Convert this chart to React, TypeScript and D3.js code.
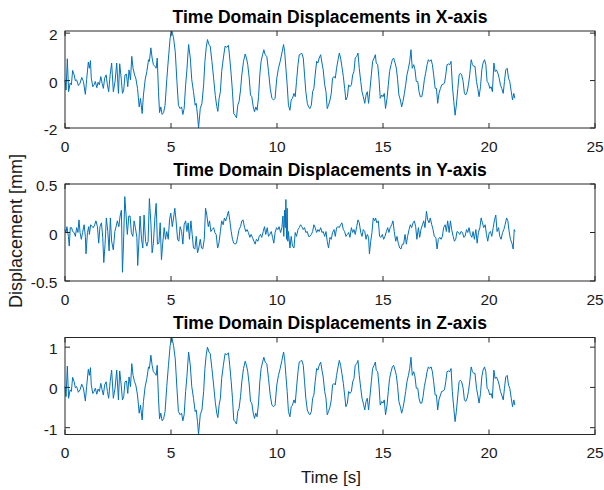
import React from "react";
import * as d3 from "d3";

// 시간축 (X/Z 공통)
const timeXZ = [
  0.00, 0.05, 0.11, 0.17, 0.24, 0.30, 0.36, 0.43, 0.49, 0.55,
  0.63, 0.71, 0.79, 0.87, 0.96, 1.02, 1.10, 1.15, 1.20, 1.24,
  1.31, 1.37, 1.43, 1.50, 1.56, 1.62, 1.69, 1.75, 1.81, 1.87,
  1.94, 2.00, 2.06, 2.13, 2.20, 2.28, 2.36, 2.44, 2.52, 2.58,
  2.65, 2.71, 2.77, 2.83, 2.90, 2.96, 3.02, 3.09, 3.15, 3.21,
  3.28, 3.34, 3.42, 3.50, 3.56, 3.64, 3.70, 3.78, 3.86, 3.94,
  3.98, 4.05, 4.11, 4.17, 4.24, 4.30, 4.35, 4.41, 4.46, 4.52,
  4.58, 4.65, 4.72, 4.80, 4.88, 4.96, 5.04, 5.12, 5.20, 5.28,
  5.35, 5.43, 5.50, 5.56, 5.62, 5.69, 5.75, 5.83, 5.91, 5.98,
  6.06, 6.14, 6.19, 6.25, 6.30, 6.38, 6.46, 6.54, 6.60, 6.66,
  6.72, 6.79, 6.85, 6.93, 7.01, 7.09, 7.16, 7.21, 7.27, 7.33,
  7.39, 7.47, 7.55, 7.63, 7.71, 7.77, 7.84, 7.90, 7.96, 8.02,
  8.09, 8.15, 8.21, 8.28, 8.34, 8.42, 8.50, 8.56, 8.62, 8.69,
  8.75, 8.81, 8.88, 8.94, 9.00, 9.06, 9.13, 9.19, 9.25, 9.32,
  9.38, 9.44, 9.52, 9.60, 9.68, 9.76, 9.84, 9.91, 9.99, 10.07,
  10.15, 10.23, 10.31, 10.36, 10.42, 10.48, 10.54, 10.61, 10.67, 10.73,
  10.80, 10.86, 10.92, 10.99, 11.05, 11.11, 11.17, 11.24, 11.30, 11.36,
  11.43, 11.49, 11.55, 11.62, 11.68, 11.74, 11.80, 11.87, 11.93, 11.99,
  12.06, 12.12, 12.18, 12.25, 12.31, 12.37, 12.43, 12.50, 12.56, 12.62,
  12.69, 12.75, 12.81, 12.88, 12.94, 13.00, 13.06, 13.13, 13.19, 13.25,
  13.32, 13.38, 13.44, 13.51, 13.57, 13.63, 13.69, 13.76, 13.82, 13.88,
  13.95, 14.01, 14.07, 14.14, 14.20, 14.26, 14.32, 14.39, 14.45, 14.51,
  14.58,
  14.64, 14.68, 14.75, 14.81, 14.87, 14.94, 15.00, 15.06, 15.12, 15.19,
  15.25, 15.31, 15.38, 15.44, 15.50, 15.57, 15.63, 15.69, 15.75, 15.82,
  15.88, 15.94, 16.01, 16.07, 16.13, 16.20, 16.26, 16.32, 16.38, 16.45,
  16.51, 16.57, 16.64, 16.70, 16.76, 16.83, 16.89, 16.95, 17.01, 17.08,
  17.14, 17.20, 17.27, 17.33, 17.39, 17.46, 17.52, 17.58, 17.64, 17.71,
  17.77, 17.83, 17.90, 17.96, 18.02, 18.09, 18.15, 18.21, 18.27, 18.34,
  18.40, 18.46, 18.53, 18.59, 18.65, 18.71, 18.78, 18.84, 18.90, 18.97,
  19.03, 19.09, 19.16, 19.22, 19.28, 19.34, 19.41, 19.47, 19.53, 19.60,
  19.66, 19.72, 19.79, 19.85, 19.91, 19.97, 20.04, 20.10, 20.16, 20.23,
  20.29, 20.35, 20.42, 20.48, 20.54, 20.60, 20.67, 20.73, 20.79, 20.86,
  20.92, 20.98, 21.05, 21.11, 21.17, 21.22,
];

// X축 변위 (mm)
const dispX = [
  0.03, -0.40, 0.92, -0.47, -0.11, -0.18, 0.43, 0.24, -0.01, 0.03,
  -0.21, -0.11, 0.13, -0.04, -0.58, 0.03, 0.78, 0.52, 0.84, 0.10,
  -0.26, -0.18, -0.04, -0.30, -0.07, -0.18, 0.17, -0.11, -0.33, 0.10,
  0.24, -0.18, -0.47, 0.24, 0.74, -0.47, -0.04, 0.74, -0.54, 0.71,
  0.10, -0.54, -0.40, 0.24, 0.27, -0.26, 0.45, 0.03, 1.02, 0.52,
  0.24, 0.10, -0.33, -1.11, -0.75, -1.39, -0.61, 0.03, 0.38, 0.88,
  0.81, 1.38, 0.95, 0.67, 0.60, 0.52, 0.95, -0.47, -1.35, -1.11,
  -1.43, -1.35, -1.04, 0.03, 0.95, 1.80, 2.09, 1.80, 1.23, -0.04,
  -1.04, -1.18, -1.11, -1.43, -1.18, -0.18, 0.45, 1.52, 0.95, 0.03,
  -0.47, -1.04, -0.96, -1.46, -2.00, -1.18, -0.96, -0.18, 0.81, 1.38,
  1.73, 1.52, 1.45, 0.81, 0.10, -0.64, -1.10, -1.30, -0.75, -0.47,
  0.38, 0.95, 1.45, 1.40, 1.49, 0.95, 0.24, -0.47, -1.39, -1.46,
  -1.57, -1.04, -0.89, -0.40, 0.24, 0.81, 1.12, 0.95, 0.67, 0.10,
  -0.61, -0.68, -1.11, -1.32, -1.11, -1.25, -0.68, 0.24, 0.81, 1.09,
  1.30, 1.09, 1.02, 0.38, -0.33, -0.75, -0.82, -0.75, 0.10, 0.52,
  0.81, 1.16, 1.52, 1.23, 0.52, -0.18, -1.04, -1.25, -0.82, -0.75,
  -0.54, -0.68, -0.04, 0.67, 1.09, 1.12, 1.15, 0.95, 0.24, -0.47,
  -0.96, -1.11, -1.18, -1.04, -0.47, -0.33, 0.24, 0.81, 0.74, 0.95,
  1.09, 0.74, 0.45, -0.18, -0.47, -1.18, -1.04, -0.82, -0.54, 0.10,
  0.17, 0.10, 0.52, 0.88, 1.16, 0.95, 0.60, 0.17, -0.33, -0.82,
  -0.68, -0.18, -0.26, -0.18, 0.24, 0.38, 0.95, 1.02, 1.16, 0.52,
  -0.04, -0.47, -0.68, -0.96, -0.61, -0.47, -0.96, -0.33, 0.24, 0.81,
  0.95,
  1.09, 0.74, 0.67, 0.10, -0.75, -0.61, -0.68, -0.54, -1.18, -0.75,
  -0.18, 0.38, 0.67, 0.88, 0.95, 0.74, 0.52, 0.03, -0.61, -0.82,
  -1.11, -0.89, -0.54, -0.18, 0.24, 0.52, 0.81, 1.30, 0.52, 0.67,
  0.45, -0.04, -0.04, -0.47, -0.68, -0.68, -0.40, 0.03, 0.31, 0.67,
  0.88, 0.81, 0.88, 0.67, 0.24, -0.33, -0.33, -0.96, -0.54, -0.33,
  -0.18, -0.16, -0.11, 0.24, 0.67, 0.70, 0.67, 0.81, -0.18, -0.89,
  -1.46, -1.04, -0.33, 0.24, 0.31, 0.24, -0.04, -0.54, -0.61, -0.47,
  -0.18, 0.24, 0.88, 0.67, 0.60, 0.60, -0.04, -0.33, -0.68, -0.26,
  0.45, 0.74, 0.88, 0.67, -0.04, -0.11, -0.33, -0.26, -0.47, 0.74,
  0.38, 0.45, 0.31, 0.10, -0.18, -0.33, -0.54, -0.04, 0.45, 0.52,
  0.10, -0.04, -0.47, -0.82, -0.54, -0.75,
];

// Z축 변위 (mm)
const dispZ = [
  0.02, -0.23, 0.53, -0.27, -0.06, -0.10, 0.25, 0.14, -0.01, 0.02,
  -0.12, -0.06, 0.08, -0.02, -0.34, 0.02, 0.45, 0.30, 0.49, 0.06,
  -0.15, -0.10, -0.02, -0.17, -0.04, -0.10, 0.10, -0.06, -0.19, 0.06,
  0.14, -0.10, -0.27, 0.14, 0.43, -0.27, -0.02, 0.43, -0.31, 0.41,
  0.06, -0.31, -0.23, 0.14, 0.16, -0.15, 0.26, 0.02, 0.59, 0.30,
  0.14, 0.06, -0.19, -0.64, -0.44, -0.81, -0.35, 0.02, 0.22, 0.51,
  0.47, 0.80, 0.55, 0.39, 0.35, 0.30, 0.55, -0.27, -0.78, -0.64,
  -0.83, -0.78, -0.60, 0.02, 0.55, 1.04, 1.24, 1.04, 0.71, -0.02,
  -0.60, -0.68, -0.64, -0.83, -0.68, -0.10, 0.26, 0.88, 0.55, 0.02,
  -0.27, -0.60, -0.56, -0.85, -1.17, -0.68, -0.56, -0.10, 0.47, 0.80,
  1.00, 0.88, 0.84, 0.47, 0.06, -0.37, -0.64, -0.75, -0.44, -0.27,
  0.22, 0.55, 0.84, 0.81, 0.86, 0.55, 0.14, -0.27, -0.81, -0.85,
  -0.91, -0.60, -0.52, -0.23, 0.14, 0.47, 0.65, 0.55, 0.39, 0.06,
  -0.35, -0.39, -0.64, -0.77, -0.64, -0.73, -0.39, 0.14, 0.47, 0.63,
  0.75, 0.63, 0.59, 0.22, -0.19, -0.44, -0.48, -0.44, 0.06, 0.30,
  0.47, 0.67, 0.88, 0.71, 0.30, -0.10, -0.60, -0.73, -0.48, -0.44,
  -0.31, -0.39, -0.02, 0.39, 0.63, 0.65, 0.67, 0.55, 0.14, -0.27,
  -0.56, -0.64, -0.68, -0.60, -0.27, -0.19, 0.14, 0.47, 0.43, 0.55,
  0.63, 0.43, 0.26, -0.10, -0.27, -0.68, -0.60, -0.48, -0.31, 0.06,
  0.10, 0.06, 0.30, 0.51, 0.67, 0.55, 0.35, 0.10, -0.19, -0.48,
  -0.39, -0.10, -0.15, -0.10, 0.14, 0.22, 0.55, 0.59, 0.67, 0.30,
  -0.02, -0.27, -0.39, -0.56, -0.35, -0.27, -0.56, -0.19, 0.14, 0.47,
  0.55,
  0.63, 0.43, 0.39, 0.06, -0.44, -0.35, -0.39, -0.31, -0.68, -0.44,
  -0.10, 0.22, 0.39, 0.51, 0.55, 0.43, 0.30, 0.02, -0.35, -0.48,
  -0.64, -0.52, -0.31, -0.10, 0.14, 0.30, 0.47, 0.75, 0.30, 0.39,
  0.26, -0.02, -0.02, -0.27, -0.39, -0.39, -0.23, 0.02, 0.18, 0.39,
  0.51, 0.47, 0.51, 0.39, 0.14, -0.19, -0.19, -0.56, -0.31, -0.19,
  -0.10, -0.09, -0.06, 0.14, 0.39, 0.41, 0.39, 0.47, -0.10, -0.52,
  -0.85, -0.60, -0.19, 0.14, 0.18, 0.14, -0.02, -0.31, -0.35, -0.27,
  -0.10, 0.14, 0.51, 0.39, 0.35, 0.35, -0.02, -0.19, -0.39, -0.15,
  0.26, 0.43, 0.51, 0.39, -0.02, -0.06, -0.19, -0.15, -0.27, 0.43,
  0.22, 0.26, 0.18, 0.06, -0.10, -0.19, -0.31, -0.02, 0.26, 0.30,
  0.06, -0.02, -0.27, -0.48, -0.31, -0.44,
];

// Y축 시간축
const timeY = [
  0.00, 0.05, 0.09, 0.16, 0.20, 0.25, 0.31, 0.36, 0.43, 0.49,
  0.55, 0.61, 0.66, 0.71, 0.77, 0.83, 0.90, 0.96, 0.99, 1.06,
  1.12, 1.15, 1.21, 1.28, 1.34, 1.40, 1.46, 1.53, 1.59, 1.65,
  1.72, 1.78, 1.83, 1.89, 1.95, 2.02, 2.08, 2.14, 2.20, 2.28,
  2.35, 2.41, 2.47, 2.54, 2.60, 2.66, 2.71, 2.76, 2.82, 2.88,
  2.94, 3.01, 3.07, 3.13, 3.20, 3.26, 3.32, 3.39, 3.43, 3.48,
  3.54, 3.61, 3.67, 3.73, 3.80, 3.86, 3.92, 3.98, 4.05, 4.11,
  4.17, 4.24, 4.30, 4.36, 4.43, 4.49, 4.55, 4.61, 4.68, 4.74,
  4.80, 4.87, 4.93, 4.99, 5.06, 5.12, 5.18, 5.24, 5.31, 5.37,
  5.43, 5.50, 5.56, 5.62, 5.69, 5.75, 5.81, 5.87, 5.94, 6.00,
  6.06, 6.13, 6.19, 6.25, 6.31, 6.38, 6.44, 6.50, 6.57, 6.63,
  6.69, 6.76, 6.82, 6.88, 6.94, 7.01, 7.07, 7.13, 7.20, 7.26,
  7.33, 7.39, 7.46, 7.52, 7.58, 7.65, 7.71, 7.77, 7.84, 7.90,
  7.96, 8.02, 8.09, 8.15, 8.21, 8.28, 8.34, 8.40, 8.47, 8.53,
  8.59, 8.65, 8.72, 8.78, 8.84, 8.91, 8.97, 9.03, 9.10, 9.16,
  9.22, 9.28, 9.35, 9.41, 9.47, 9.54, 9.60, 9.66, 9.73, 9.79,
  9.85, 9.91, 9.98, 10.04, 10.10, 10.17, 10.23, 10.28, 10.32, 10.36,
  10.39, 10.42, 10.45, 10.48, 10.51, 10.54, 10.61, 10.67, 10.73, 10.80,
  10.86, 10.92, 10.99, 11.05, 11.11, 11.17, 11.24, 11.30, 11.36, 11.43,
  11.49, 11.55, 11.62, 11.68, 11.74, 11.80, 11.87, 11.93, 11.99, 12.06,
  12.12, 12.18, 12.25, 12.31, 12.37, 12.43, 12.50, 12.56, 12.62, 12.69,
  12.75, 12.81, 12.88, 12.94, 13.00, 13.06, 13.13, 13.19, 13.25, 13.32,
  13.38, 13.44, 13.51, 13.57, 13.63, 13.69, 13.76, 13.82, 13.88, 13.95,
  14.01, 14.07, 14.14, 14.20, 14.26, 14.32, 14.36, 14.42, 14.48, 14.54,
  14.61,
  14.65, 14.71, 14.78, 14.84, 14.90, 14.97, 15.03, 15.09, 15.16, 15.22,
  15.28, 15.34, 15.41, 15.47, 15.53, 15.60, 15.66, 15.72, 15.79, 15.85,
  15.91, 15.97, 16.04, 16.10, 16.16, 16.23, 16.29, 16.35, 16.42, 16.48,
  16.54, 16.60, 16.67, 16.73, 16.79, 16.86, 16.92, 16.98, 17.05, 17.11,
  17.17, 17.23, 17.30, 17.36, 17.42, 17.49, 17.55, 17.61, 17.68, 17.74,
  17.80, 17.86, 17.93, 17.99, 18.05, 18.12, 18.18, 18.24, 18.31, 18.37,
  18.43, 18.49, 18.56, 18.62, 18.68, 18.75, 18.81, 18.87, 18.94, 19.00,
  19.06, 19.12, 19.19, 19.25, 19.31, 19.38, 19.44, 19.50, 19.57, 19.63,
  19.69, 19.75, 19.82, 19.88, 19.94, 20.01, 20.07, 20.13, 20.20, 20.26,
  20.32, 20.38, 20.45, 20.51, 20.57, 20.64, 20.70, 20.76, 20.83, 20.89,
  20.95, 21.01, 21.08, 21.14, 21.19, 21.23,
];

// Y축 변위 (mm)
const dispY = [
  0.03, 0.00, 0.06, -0.04, -0.14, 0.05, 0.05, 0.01, 0.00, -0.04,
  0.05, 0.00, 0.13, 0.00, -0.07, 0.00, 0.08, -0.04, -0.22, 0.00,
  0.06, -0.02, 0.08, 0.06, 0.05, 0.08, 0.12, 0.06, -0.11, 0.06,
  0.10, -0.05, -0.31, -0.12, 0.15, 0.01, -0.19, 0.15, -0.09, -0.18,
  0.01, 0.06, 0.12, 0.06, 0.17, 0.23, -0.41, -0.12, 0.37, 0.18,
  -0.02, 0.17, 0.17, 0.00, -0.04, 0.12, 0.05, -0.05, -0.34, -0.12,
  0.17, -0.07, -0.16, 0.18, -0.09, -0.14, -0.09, 0.35, 0.10, -0.21,
  -0.11, 0.15, 0.30, -0.12, -0.11, 0.10, -0.28, -0.11, 0.05, -0.07,
  0.01, -0.07, 0.13, 0.20, 0.06, 0.15, 0.25, 0.12, -0.07, -0.09,
  0.06, 0.01, -0.12, 0.08, 0.12, 0.01, 0.10, -0.07, 0.12, -0.02,
  -0.16, -0.17, -0.04, -0.21, -0.16, -0.07, -0.16, -0.17, -0.07, 0.25,
  0.18, 0.06, 0.12, 0.01, 0.03, 0.05, 0.00, -0.02, -0.16, -0.11,
  0.01, 0.12, 0.08, 0.15, 0.12, 0.17, 0.22, 0.13, 0.01, -0.07,
  -0.11, -0.12, -0.11, -0.04, 0.03, 0.06, 0.12, 0.13, 0.05, 0.01,
  0.03, 0.00, -0.05, -0.02, -0.05, -0.09, -0.12, -0.07, -0.09, -0.04,
  -0.02, -0.05, 0.01, 0.06, -0.02, 0.05, -0.04, -0.02, 0.01, -0.05,
  -0.11, 0.00, 0.05, 0.03, 0.06, 0.00, 0.05, 0.17, -0.04, 0.23,
  0.05, 0.34, -0.07, 0.25, -0.09, 0.01, -0.16, -0.04, -0.14, -0.16,
  0.00, -0.04, 0.03, 0.05, 0.08, 0.06, 0.03, 0.05, 0.00, 0.01,
  -0.04, -0.04, -0.02, 0.01, 0.08, 0.05, 0.00, 0.03, 0.01, 0.05,
  0.00, 0.01, -0.04, 0.01, -0.09, -0.16, -0.05, -0.07, 0.00, 0.03,
  -0.04, 0.05, 0.06, 0.05, 0.08, 0.10, 0.03, 0.01, -0.04, -0.02,
  0.00, -0.05, 0.05, 0.00, 0.03, -0.02, 0.06, 0.13, 0.10, 0.00,
  -0.04, 0.03, 0.01, -0.07, -0.02, -0.05, -0.22, -0.09, 0.00, 0.15,
  0.12,
  0.15, 0.10, 0.12, -0.04, -0.05, -0.02, -0.07, -0.04, 0.01, 0.05,
  0.00, 0.05, 0.08, 0.12, 0.01, -0.09, -0.04, -0.11, -0.16, -0.17,
  -0.12, -0.12, -0.02, -0.12, -0.04, 0.03, 0.08, 0.05, 0.10, 0.12,
  0.06, -0.07, 0.05, -0.05, 0.03, 0.08, 0.12, 0.05, 0.22, 0.13,
  0.10, 0.15, 0.08, 0.03, -0.04, -0.05, -0.17, -0.07, -0.05, -0.07,
  -0.04, 0.05, 0.08, 0.01, 0.12, 0.00, 0.12, 0.03, -0.04, -0.09,
  -0.07, 0.01, 0.00, -0.02, 0.01, 0.00, -0.05, -0.04, 0.03, 0.00,
  0.05, -0.02, -0.05, 0.01, -0.07, 0.03, -0.11, 0.00, 0.05, 0.15,
  0.10, 0.05, 0.08, -0.02, -0.09, 0.00, 0.01, -0.04, 0.05, 0.13,
  0.18, 0.01, 0.05, -0.04, -0.07, 0.00, 0.03, 0.08, 0.15, 0.12,
  0.01, -0.07, -0.11, -0.17, 0.03, 0.01,
];

const timeTicks = [0, 5, 10, 15, 20, 25];
const ticksX = [-2, 0, 2];
const ticksY = [-0.5, 0, 0.5];
const ticksZ = [-1, 0, 1];
const titles = [
  "Time Domain Displacements in X-axis",
  "Time Domain Displacements in Y-axis",
  "Time Domain Displacements in Z-axis",
];

const FONT = "'Liberation Sans', Arial, Helvetica, sans-serif";
const AXIS_COLOR = "#262626";
const LINE_COLOR = "#0072BD";

const plotLeft = 65;
const plotRight = 595;
const plotHeight = 97;
const tickLen = 5;

interface PanelProps {
  title: string;
  times: number[];
  values: number[];
  yTicks: number[];
  yDomain: [number, number];
  top: number;
}

const Panel: React.FC<PanelProps> = ({ title, times, values, yTicks, yDomain, top }) => {
  const bottom = top + plotHeight;
  const xScale = d3.scaleLinear().domain([0, 25]).range([plotLeft, plotRight]);
  const yScale = d3.scaleLinear().domain(yDomain).range([bottom, top]);

  const n = Math.min(times.length, values.length);
  const pts: [number, number][] = d3.range(n).map((i) => [times[i], values[i]]);
  const line = d3
    .line<[number, number]>()
    .x((d) => xScale(d[0]))
    .y((d) => yScale(d[1]));

  return (
    <g>
      <path d={line(pts) || ""} fill="none" stroke={LINE_COLOR} strokeWidth={1} strokeLinejoin="round" />
      {/* 박스 */}
      <rect
        x={plotLeft}
        y={top}
        width={plotRight - plotLeft}
        height={plotHeight}
        fill="none"
        stroke={AXIS_COLOR}
        strokeWidth={1}
      />
      {/* x 눈금 */}
      {timeTicks.map((t) => (
        <g key={`xt${t}`}>
          <line x1={xScale(t)} x2={xScale(t)} y1={bottom} y2={bottom - tickLen} stroke={AXIS_COLOR} />
          <line x1={xScale(t)} x2={xScale(t)} y1={top} y2={top + tickLen} stroke={AXIS_COLOR} />
          <text
            x={xScale(t)}
            y={bottom + 23.5}
            textAnchor="middle"
            fontSize={15.5}
            fontFamily={FONT}
            fill="#1a1a1a"
          >
            {t}
          </text>
        </g>
      ))}
      {/* y 눈금 */}
      {yTicks.map((v) => (
        <g key={`yt${v}`}>
          <line x1={plotLeft} x2={plotLeft + tickLen} y1={yScale(v)} y2={yScale(v)} stroke={AXIS_COLOR} />
          <line x1={plotRight} x2={plotRight - tickLen} y1={yScale(v)} y2={yScale(v)} stroke={AXIS_COLOR} />
          <text
            x={plotLeft - 7.5}
            y={yScale(v) + 7}
            textAnchor="end"
            fontSize={15.5}
            fontFamily={FONT}
            fill="#1a1a1a"
          >
            {v}
          </text>
        </g>
      ))}
      <text
        x={(plotLeft + plotRight) / 2}
        y={top - 8.5}
        textAnchor="middle"
        fontSize={17.5}
        fontWeight="bold"
        fontFamily={FONT}
        fill="#000"
      >
        {title}
      </text>
    </g>
  );
};

const App: React.FC = () => {
  const extX = d3.extent(dispX) as [number, number];
  const extZ = d3.extent(dispZ) as [number, number];
  return (
    <div style={{ position: "fixed", left: 0, top: 0, width: 604, height: 490, background: "#fff" }}>
      <svg width={604} height={490} style={{ display: "block" }}>
        <rect x={0} y={0} width={604} height={490} fill="#fff" />
        <Panel title={titles[0]} times={timeXZ} values={dispX} yTicks={ticksX} yDomain={extX} top={31} />
        <Panel title={titles[1]} times={timeY} values={dispY} yTicks={ticksY} yDomain={[-0.5, 0.5]} top={184} />
        <Panel title={titles[2]} times={timeXZ} values={dispZ} yTicks={ticksZ} yDomain={extZ} top={337.5} />
        <text
          transform="translate(22, 231) rotate(-90)"
          textAnchor="middle"
          fontSize={18}
          fontFamily={FONT}
          fill="#1a1a1a"
        >
          Displacement [mm]
        </text>
        <text x={331} y={483} textAnchor="middle" fontSize={17} fontFamily={FONT} fill="#1a1a1a">
          Time [s]
        </text>
      </svg>
    </div>
  );
};

export default App;
